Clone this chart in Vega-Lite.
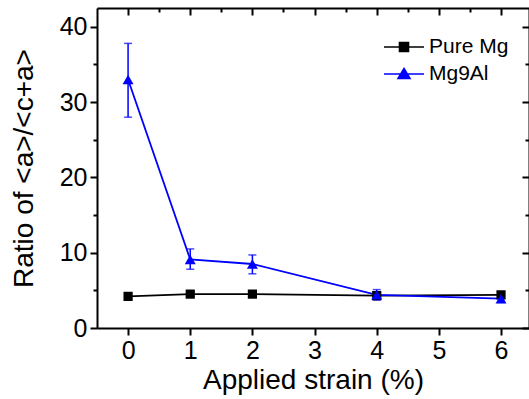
{
  "$schema": "https://vega.github.io/schema/vega-lite/v6.json",
  "width": 432,
  "height": 320,
  "autosize": "none",
  "padding": {"left": 97, "top": 8, "right": 0, "bottom": 71},
  "background": "white",
  "config": {
    "view": {"stroke": null},
    "font": "Liberation Sans",
    "axis": {
      "grid": false,
      "domainColor": "black",
      "domainWidth": 2,
      "tickColor": "black",
      "tickWidth": 2,
      "labelColor": "black",
      "titleColor": "black",
      "labelFont": "Liberation Sans",
      "titleFont": "Liberation Sans",
      "labelFontSize": 25,
      "titleFontSize": 28,
      "titleFontWeight": "normal",
      "labelOverlap": false,
      "labelFlush": false
    },
    "legend": {
      "orient": "none",
      "legendX": 306,
      "legendY": 28,
      "labelFontSize": 21,
      "labelFont": "Liberation Sans",
      "labelColor": "black",
      "symbolSize": 400,
      "rowPadding": 6,
      "labelOffset": 4,
      "symbolStrokeWidth": 1.6
    }
  },
  "data": {
    "values": [
      {"series": "Pure Mg", "strain": 0, "ratio": 4.2, "lo": 3.9, "hi": 4.5},
      {"series": "Pure Mg", "strain": 1, "ratio": 4.5, "lo": 4.2, "hi": 4.8},
      {"series": "Pure Mg", "strain": 2, "ratio": 4.5, "lo": 4.2, "hi": 4.8},
      {"series": "Pure Mg", "strain": 4, "ratio": 4.3, "lo": 4.0, "hi": 4.6},
      {"series": "Pure Mg", "strain": 6, "ratio": 4.4, "lo": 4.1, "hi": 4.7},
      {"series": "Mg9Al", "strain": 0, "ratio": 33.0, "lo": 28.0, "hi": 37.8},
      {"series": "Mg9Al", "strain": 1, "ratio": 9.1, "lo": 7.8, "hi": 10.5},
      {"series": "Mg9Al", "strain": 2, "ratio": 8.5, "lo": 7.2, "hi": 9.7},
      {"series": "Mg9Al", "strain": 4, "ratio": 4.4, "lo": 3.7, "hi": 5.1},
      {"series": "Mg9Al", "strain": 6, "ratio": 3.9, "lo": 3.4, "hi": 4.4}
    ]
  },
  "layer": [
    {
      "mark": {"type": "line", "strokeWidth": 1.8},
      "encoding": {
        "x": {
          "field": "strain", "type": "quantitative",
          "scale": {"domain": [-0.5, 6.45], "nice": false, "zero": false},
          "axis": {
            "orient": "bottom",
            "values": [0, 0.5, 1, 1.5, 2, 2.5, 3, 3.5, 4, 4.5, 5, 5.5, 6],
            "format": "d",
            "labelExpr": "datum.value % 1 === 0 ? datum.label : ''",
            "tickSize": {"condition": {"test": "datum.value % 1 === 0", "value": 7}, "value": 4},
            "labelPadding": 3,
            "title": "Applied strain (%)",
            "titlePadding": 3
          }
        },
        "y": {
          "field": "ratio", "type": "quantitative",
          "scale": {"domain": [0, 42.5], "nice": false},
          "axis": {
            "orient": "left",
            "values": [0, 5, 10, 15, 20, 25, 30, 35, 40],
            "format": "d",
            "labelExpr": "datum.value % 10 === 0 ? datum.label : ''",
            "tickSize": {"condition": {"test": "datum.value % 10 === 0", "value": 7}, "value": 4},
            "labelPadding": 3,
            "title": "Ratio of <a>/<c+a>",
            "titlePadding": 21
          }
        },
        "color": {
          "field": "series", "type": "nominal",
          "scale": {"domain": ["Pure Mg", "Mg9Al"], "range": ["black", "#0000ff"]},
          "legend": {
            "title": null,
            "encode": {
              "symbols": {
                "update": {
                  "shape": {"signal": "datum.value === 'Pure Mg' ? 'M-3,0H1M-1.45,-0.45H-0.55V0.45H-1.45Z' : 'M-3,0H1M-1,-0.55L-0.4,0.45H-1.6Z'"},
                  "fill": {"signal": "datum.value === 'Pure Mg' ? 'black' : '#0000ff'"},
                  "stroke": {"signal": "datum.value === 'Pure Mg' ? 'black' : '#0000ff'"},
                  "strokeWidth": {"value": 1.6},
                  "opacity": {"value": 1}
                }
              }
            }
          }
        }
      }
    },
    {
      "mark": {"type": "rule", "strokeWidth": 1.5},
      "encoding": {
        "x": {"field": "strain", "type": "quantitative", "axis": null},
        "y": {"field": "lo", "type": "quantitative", "axis": null},
        "y2": {"field": "hi"},
        "color": {"field": "series", "type": "nominal"}
      }
    },
    {
      "mark": {"type": "tick", "orient": "horizontal", "size": 8, "thickness": 1.5},
      "encoding": {
        "x": {"field": "strain", "type": "quantitative", "axis": null},
        "y": {"field": "lo", "type": "quantitative", "axis": null},
        "color": {"field": "series", "type": "nominal"}
      }
    },
    {
      "mark": {"type": "tick", "orient": "horizontal", "size": 8, "thickness": 1.5},
      "encoding": {
        "x": {"field": "strain", "type": "quantitative", "axis": null},
        "y": {"field": "hi", "type": "quantitative", "axis": null},
        "color": {"field": "series", "type": "nominal"}
      }
    },
    {
      "transform": [{"filter": "datum.series === 'Pure Mg'"}],
      "mark": {"type": "point", "shape": "square", "filled": true, "size": 85, "opacity": 1},
      "encoding": {
        "x": {"field": "strain", "type": "quantitative", "axis": null},
        "y": {"field": "ratio", "type": "quantitative", "axis": null},
        "color": {"field": "series", "type": "nominal"}
      }
    },
    {
      "transform": [{"filter": "datum.series === 'Mg9Al'"}],
      "mark": {"type": "point", "shape": "triangle-up", "filled": true, "size": 120, "opacity": 1},
      "encoding": {
        "x": {"field": "strain", "type": "quantitative", "axis": null},
        "y": {"field": "ratio", "type": "quantitative", "axis": null},
        "color": {"field": "series", "type": "nominal"}
      }
    },
    {
      "mark": {"type": "point", "opacity": 0},
      "encoding": {
        "x": {
          "field": "strain", "type": "quantitative",
          "axis": {
            "orient": "top",
            "values": [0, 0.5, 1, 1.5, 2, 2.5, 3, 3.5, 4, 4.5, 5, 5.5, 6],
            "labels": false,
            "title": null,
            "tickSize": {"condition": {"test": "datum.value % 1 === 0", "value": -7}, "value": -4}
          }
        },
        "y": {
          "field": "ratio", "type": "quantitative",
          "axis": {
            "orient": "right",
            "values": [0, 5, 10, 15, 20, 25, 30, 35, 40],
            "labels": false,
            "title": null,
            "tickSize": {"condition": {"test": "datum.value % 10 === 0", "value": -7}, "value": -4}
          }
        }
      }
    }
  ],
  "resolve": {"axis": {"x": "independent", "y": "independent"}}
}
